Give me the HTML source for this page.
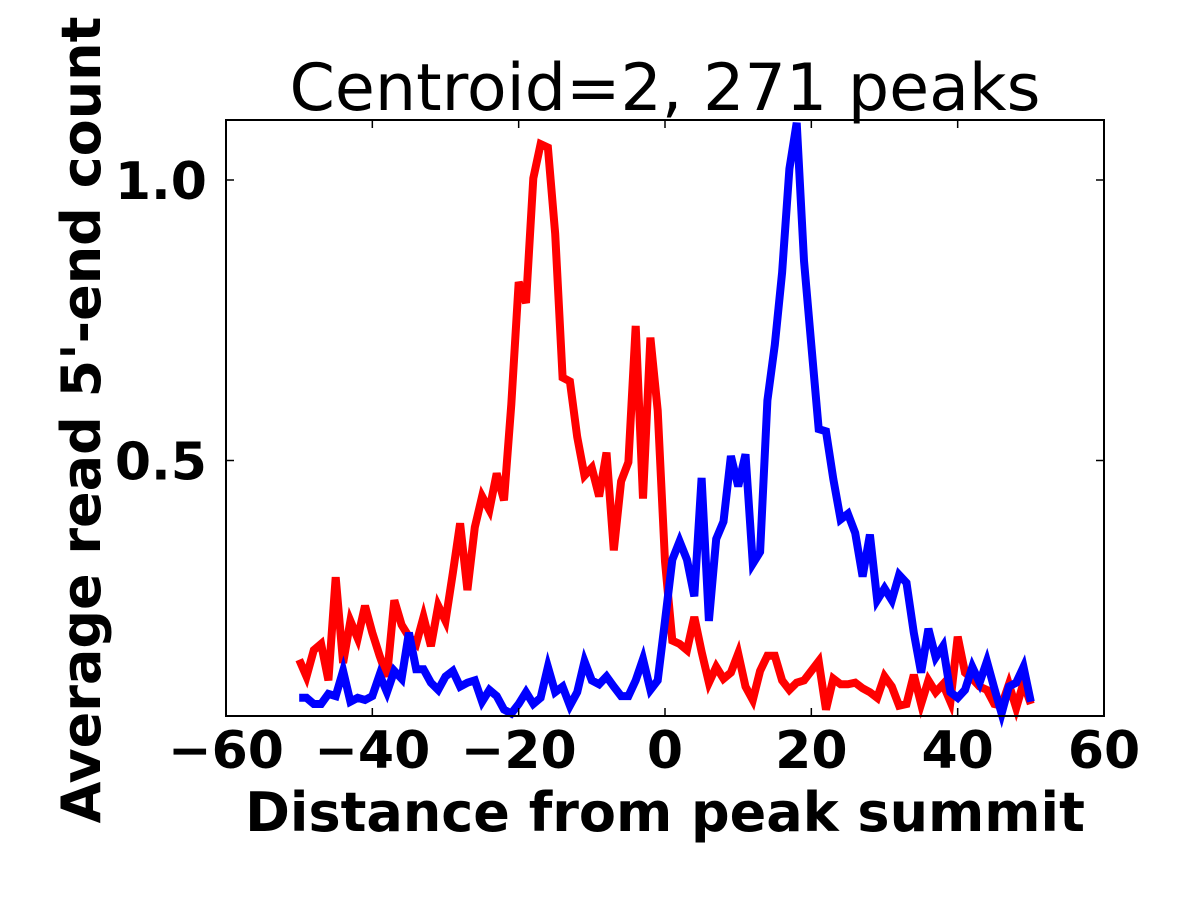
<!DOCTYPE html>
<html><head><meta charset="utf-8"><style>
body{margin:0;background:#fff;}
svg{display:block;font-family:"DejaVu Sans","Liberation Sans",sans-serif;}
</style></head><body>
<svg id="chart" width="1200" height="900" viewBox="0 0 1200 900">
<rect width="1200" height="900" fill="#fff"/>
<g id="lines"></g>
<rect x="226" y="120" width="878" height="596" fill="none" stroke="#000" stroke-width="2"/>
<g id="ticks"></g>
<text x="665" y="110" font-size="65" text-anchor="middle">Centroid=2, 271 peaks</text>
<text x="665" y="831" font-size="54" font-weight="bold" text-anchor="middle">Distance from peak summit</text>
<text transform="translate(100,420) rotate(-90)" font-size="54" font-weight="bold" text-anchor="middle">Average read 5'-end count</text>
</svg>
<script>
const xs = [];
for (let i = -50; i <= 50; i++) xs.push(i);
const redValues = [0.145,0.115,0.162,0.173,0.108,0.292,0.139,0.214,0.183,0.241,0.193,0.152,0.115,0.251,0.207,0.186,0.173,0.221,0.169,0.241,0.214,0.299,0.388,0.269,0.381,0.436,0.412,0.477,0.429,0.6,0.818,0.781,1.003,1.064,1.058,0.904,0.648,0.641,0.542,0.473,0.487,0.436,0.514,0.340,0.463,0.497,0.740,0.432,0.719,0.589,0.32,0.179,0.173,0.162,0.221,0.159,0.104,0.132,0.111,0.122,0.156,0.097,0.073,0.125,0.152,0.152,0.108,0.091,0.104,0.108,0.125,0.142,0.056,0.111,0.101,0.101,0.104,0.094,0.087,0.077,0.115,0.097,0.063,0.066,0.118,0.066,0.108,0.087,0.101,0.070,0.186,0.122,0.111,0.097,0.091,0.066,0.063,0.101,0.059,0.104,0.066];
const blueValues = [0.077,0.077,0.066,0.066,0.084,0.080,0.125,0.070,0.077,0.073,0.080,0.118,0.087,0.125,0.111,0.193,0.128,0.128,0.104,0.091,0.115,0.125,0.097,0.104,0.108,0.070,0.091,0.080,0.056,0.049,0.066,0.087,0.066,0.077,0.132,0.087,0.097,0.063,0.087,0.142,0.108,0.101,0.115,0.097,0.080,0.080,0.108,0.146,0.091,0.108,0.214,0.323,0.356,0.323,0.258,0.469,0.214,0.360,0.391,0.508,0.454,0.511,0.316,0.337,0.607,0.706,0.835,1.020,1.102,0.856,0.706,0.556,0.552,0.467,0.395,0.405,0.371,0.293,0.368,0.251,0.272,0.251,0.296,0.282,0.193,0.122,0.200,0.149,0.169,0.087,0.077,0.091,0.132,0.104,0.142,0.094,0.049,0.097,0.104,0.132,0.070];
const xTicks = [-60,-40,-20,0,20,40,60];
const xTickLabels = ["\u221260","\u221240","\u221220","0","20","40","60"];
const yTicks = [0.5,1.0];
const yTickLabels = ["0.5","1.0"];

const X = v => 665 + v * 7.3167;
const Y = v => 741 - v * 561;
const NS = "http://www.w3.org/2000/svg";
const lines = document.getElementById('lines');
const ticks = document.getElementById('ticks');

function drawSeries(vals, color, name) {
  const p = document.createElementNS(NS, 'polyline');
  p.setAttribute('points', vals.map((v, i) => X(xs[i]).toFixed(1) + ',' + Y(v).toFixed(1)).join(' '));
  p.setAttribute('fill', 'none');
  p.setAttribute('stroke', color);
  p.setAttribute('stroke-width', '8');
  p.setAttribute('stroke-linejoin', 'miter');
  
  
  lines.appendChild(p);
}
drawSeries(redValues, '#ff0000', 'red-series-line');
drawSeries(blueValues, '#0000ff', 'blue-series-line');

xTicks.forEach((t, i) => {
  const x = X(t);
  [[716, 708], [120, 128]].forEach(([a, b]) => {
    const l = document.createElementNS(NS, 'line');
    l.setAttribute('x1', x); l.setAttribute('x2', x);
    l.setAttribute('y1', a); l.setAttribute('y2', b);
    l.setAttribute('stroke', '#000'); l.setAttribute('stroke-width', '1.5');
    
    
    ticks.appendChild(l);
  });
  const tx = document.createElementNS(NS, 'text');
  tx.setAttribute('x', x); tx.setAttribute('y', 768);
  tx.setAttribute('font-size', '52'); tx.setAttribute('font-weight', 'bold');
  tx.setAttribute('text-anchor', 'middle');
  tx.textContent = xTickLabels[i];
  
  
  ticks.appendChild(tx);
});
yTicks.forEach((t, i) => {
  const y = Y(t);
  [[226, 234], [1104, 1096]].forEach(([a, b]) => {
    const l = document.createElementNS(NS, 'line');
    l.setAttribute('x1', a); l.setAttribute('x2', b);
    l.setAttribute('y1', y); l.setAttribute('y2', y);
    l.setAttribute('stroke', '#000'); l.setAttribute('stroke-width', '1.5');
    
    
    ticks.appendChild(l);
  });
  const tx = document.createElementNS(NS, 'text');
  tx.setAttribute('x', 207); tx.setAttribute('y', y + 19);
  tx.setAttribute('font-size', '52'); tx.setAttribute('font-weight', 'bold');
  tx.setAttribute('text-anchor', 'end');
  tx.textContent = yTickLabels[i];
  
  
  ticks.appendChild(tx);
});
</script>
</body></html>
